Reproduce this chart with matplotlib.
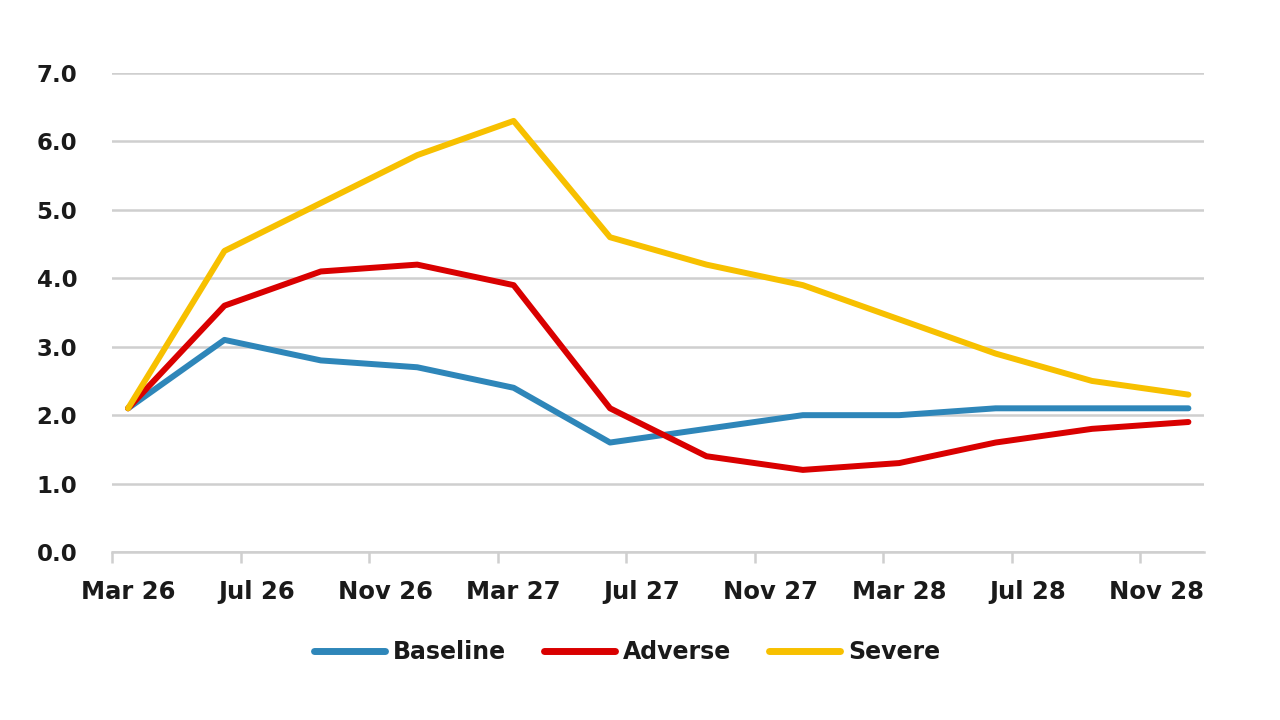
import matplotlib
matplotlib.use("Agg")
import matplotlib.pyplot as plt

# quarterly points, x in months since Mar 26 (mid-month)
months = [0.5, 3.5, 6.5, 9.5, 12.5, 15.5, 18.5, 21.5, 24.5, 27.5, 30.5, 33.5]
baseline = [2.1, 3.1, 2.8, 2.7, 2.4, 1.6, 1.8, 2.0, 2.0, 2.1, 2.1, 2.1]
adverse = [2.1, 3.6, 4.1, 4.2, 3.9, 2.1, 1.4, 1.2, 1.3, 1.6, 1.8, 1.9]
severe = [2.1, 4.4, 5.1, 5.8, 6.3, 4.6, 4.2, 3.9, 3.4, 2.9, 2.5, 2.3]

tick_pos = [0, 4, 8, 12, 16, 20, 24, 28, 32]
tick_labels = ['Mar 26', 'Jul 26', 'Nov 26', 'Mar 27', 'Jul 27',
               'Nov 27', 'Mar 28', 'Jul 28', 'Nov 28']

plt.rcParams['font.family'] = ['DejaVu Sans']
plt.rcParams['font.weight'] = 'bold'

fig = plt.figure(figsize=(12.8, 7.2), dpi=100)
ax = fig.add_axes([0.0875, 0.2333, 0.8535, 0.6653])

ax.plot(months, baseline, color='#2E86B9', lw=4.3, label='Baseline', solid_capstyle='round')
ax.plot(months, adverse, color='#D90000', lw=4.3, label='Adverse', solid_capstyle='round')
ax.plot(months, severe, color='#F7C000', lw=4.3, label='Severe', solid_capstyle='round')

ax.set_xlim(0, 34)
ax.set_ylim(0, 7)
ax.set_yticks([0, 1, 2, 3, 4, 5, 6, 7])
ax.set_yticklabels(['%.1f' % v for v in range(8)])
ax.yaxis.grid(True, color='#CFCFCF', lw=1.8)
ax.set_axisbelow(True)

ax.set_xticks(tick_pos)
ax.set_xticklabels([])
ax.set_xticks([p + 0.5 for p in tick_pos], minor=True)
ax.set_xticklabels(tick_labels, minor=True)
ax.tick_params(axis='x', which='major', length=8, width=1.8, color='#CFCFCF', direction='out')
ax.tick_params(axis='x', which='minor', length=0, pad=20, labelsize=17.5, labelcolor='#1a1a1a')
ax.tick_params(axis='y', length=0, pad=25, labelsize=16.5, labelcolor='#1a1a1a')

for s in ['top', 'right', 'left']:
    ax.spines[s].set_visible(False)
ax.spines['bottom'].set_color('#CFCFCF')
ax.spines['bottom'].set_linewidth(1.8)

leg = fig.legend(loc='center', bbox_to_anchor=(0.49, 0.094), ncol=3, frameon=False,
                 fontsize=17, handlelength=3.0, columnspacing=1.6, handletextpad=0.35)
for t in leg.get_texts():
    t.set_color('#1a1a1a')
for h in leg.legend_handles:
    h.set_linewidth(5)

fig.savefig('out.png', dpi=100)
